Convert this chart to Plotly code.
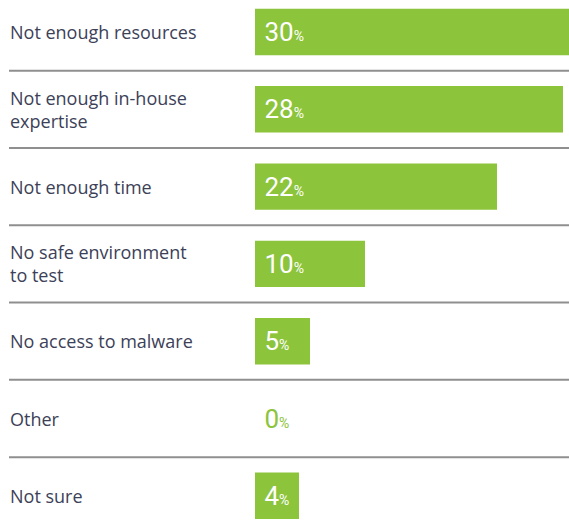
import plotly.graph_objects as go

# Survey answers and the share of respondents for each
categories = [
    "Not enough resources",
    "Not enough in-house<br>expertise",
    "Not enough time",
    "No safe environment<br>to test",
    "No access to malware",
    "Other",
    "Not sure",
]
percentages = [30, 28, 22, 10, 5, 0, 4]

W, H = 569, 526
BAR_LEFT = 255          # pixel where the bar area starts
ROW_PITCH = 77.3        # pixels per row
FIRST_ROW_CENTER = 32   # pixel y of the first row

GREEN = "#8cc43c"
LABEL_COLOR = "#3c4158"

rows = list(range(len(categories)))
bar_text = [
    f"\u00a0{v}<span style='font-size:14px'>%</span>" for v in percentages
]
text_pos = ["outside" if v == 0 else "inside" for v in percentages]

fig = go.Figure(
    go.Bar(
        x=percentages,
        y=rows,
        orientation="h",
        marker=dict(color=GREEN, line=dict(width=0)),
        width=0.6,
        text=bar_text,
        textposition=text_pos,
        insidetextanchor="start",
        insidetextfont=dict(color="white", size=26, family="Roboto"),
        outsidetextfont=dict(color=GREEN, size=26, family="Roboto"),
        cliponaxis=True,
        hoverinfo="skip",
    )
)

# x scale: 28% reaches x=563 px
px_per_unit = (563 - BAR_LEFT) / 28
x_max = (W - BAR_LEFT) / px_per_unit

y_top = -FIRST_ROW_CENTER / ROW_PITCH
y_bottom = y_top + H / ROW_PITCH

# Row labels on the left
annotations = [
    dict(
        text=cat,
        x=8 / W,
        xref="paper",
        y=r,
        yref="y",
        xanchor="left",
        yanchor="middle",
        align="left",
        showarrow=False,
        font=dict(family="Open Sans", size=18, color=LABEL_COLOR),
    )
    for r, cat in zip(rows, categories)
]

# Grey separators between rows
shapes = [
    dict(
        type="line",
        xref="paper",
        yref="y",
        x0=9 / W,
        x1=1,
        y0=r + 0.5,
        y1=r + 0.5,
        line=dict(color="#8f8f8f", width=2),
    )
    for r in rows[:-1]
]

fig.update_layout(
    width=W,
    height=H,
    margin=dict(l=0, r=0, t=0, b=0),
    paper_bgcolor="white",
    plot_bgcolor="white",
    showlegend=False,
    annotations=annotations,
    shapes=shapes,
    uniformtext=dict(mode=False),
    xaxis=dict(
        domain=[BAR_LEFT / W, 1],
        range=[0, x_max],
        visible=False,
        fixedrange=True,
    ),
    yaxis=dict(
        range=[y_bottom, y_top],
        visible=False,
        fixedrange=True,
    ),
)

fig.write_html("out.html", config={"displayModeBar": False})
